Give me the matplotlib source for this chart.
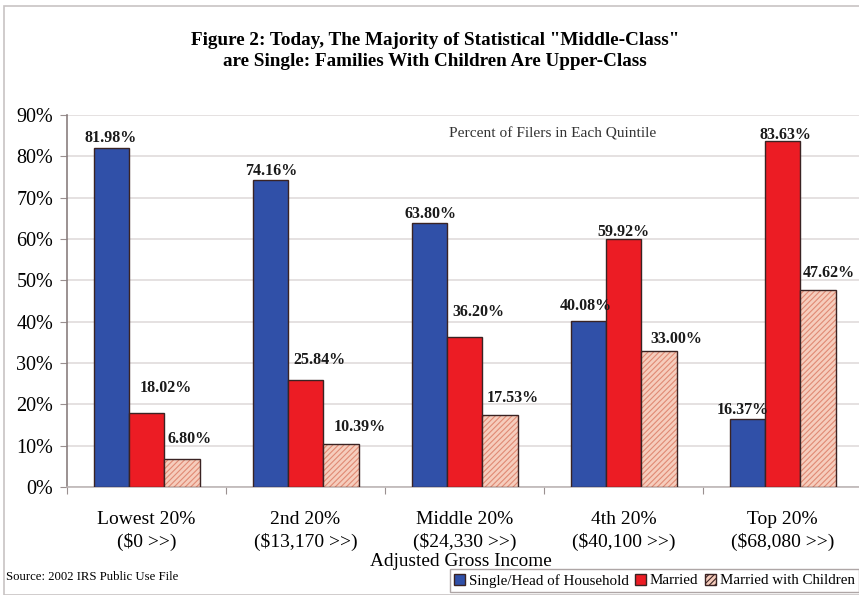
import matplotlib
matplotlib.use("Agg")
import matplotlib.pyplot as plt
import numpy as np
from matplotlib.patches import Rectangle, Patch

plt.rcParams['font.family'] = ['Liberation Serif', 'DejaVu Serif']
plt.rcParams['hatch.linewidth'] = 0.8

categories = ["Lowest 20%\n($0 >>)", "2nd 20%\n($13,170 >>)", "Middle 20%\n($24,330 >>)",
              "4th 20%\n($40,100 >>)", "Top 20%\n($68,080 >>)"]
single = [81.98, 74.16, 63.80, 40.08, 16.37]
married = [18.02, 25.84, 36.20, 59.92, 83.63]
married_kids = [6.80, 10.39, 17.53, 33.00, 47.62]
series_names = ["Single/Head of Household", "Married", "Married with Children"]
yticks = list(range(0, 100, 10))

# label offsets in pixels (dx, dy) from the top centre of each bar
single_off = [(-1, 10), (1, 9), (1, 9), (-2, 15), (-4, 9)]
married_off = [(19, 25), (14, 20), (14, 25), (0, 7), (3, 6)]
kids_off = [(8, 20), (19, 17), (13, 17), (17, 12), (11, 17)]

blue = "#3050a8"
red = "#ec1c24"
pink = "#f6cdbd"
hatch_col = "#e08a74"
edge = "#3a2323"

fig = plt.figure(figsize=(8.59, 5.95), dpi=100)
fig.patch.set_facecolor("white")
fig.patches.append(Rectangle((4 / 859, 0), 1.0, 1 - 6 / 595, transform=fig.transFigure,
                             fill=False, edgecolor="#c8c4c4", linewidth=1.2, zorder=0))

ax = fig.add_axes([67 / 859, 1 - 487 / 595, 795 / 859, (487 - 115) / 595])
n = len(categories)
x = np.arange(n)
w = 1 / 4.5

ax.bar(x - w, single, w, color=blue, edgecolor=edge, linewidth=1.0, zorder=3)
ax.bar(x, married, w, color=red, edgecolor=edge, linewidth=1.0, zorder=3)
ax.bar(x + w, married_kids, w, color=pink, edgecolor=hatch_col, hatch="//////", linewidth=0, zorder=3)
ax.bar(x + w, married_kids, w, fill=False, edgecolor=edge, linewidth=1.0, zorder=4)

lab_kw = dict(ha="center", va="center", fontsize=11.5, fontweight="bold", color="#1a1a1a",
              textcoords="offset pixels", zorder=5)
for vals, offs, shift in [(single, single_off, -w), (married, married_off, 0), (married_kids, kids_off, w)]:
    for i in range(n):
        ax.annotate(f"{vals[i]:.2f}%", (x[i] + shift, vals[i]), xytext=offs[i], **lab_kw)

ax.set_xlim(-0.5, n - 0.5)
ax.set_ylim(0, 90)
ax.set_yticks(yticks)
ax.set_yticklabels([f"{t}%" for t in yticks], fontsize=14.5)
ax.set_xticks(np.arange(n + 1) - 0.5, minor=False)
ax.set_xticklabels([])
ax.set_xticks(x, minor=True)
ax.set_xticklabels(categories, minor=True, fontsize=14, linespacing=1.38)
ax.tick_params(axis="x", which="minor", length=0, pad=17)
ax.tick_params(axis="x", which="major", length=5, color="#9a9090", direction="out")
ax.tick_params(axis="y", length=5, color="#9a9090", direction="out", pad=5)
ax.grid(axis="y", color="#e0dcdc", linewidth=1.2, zorder=0)
for s in ["top", "right"]:
    ax.spines[s].set_visible(False)
ax.spines["left"].set_color("#8a7f7f")
ax.spines["left"].set_linewidth(1.2)
ax.spines["bottom"].set_color("#bdb6b6")
ax.spines["bottom"].set_linewidth(1.2)

ax.text((449 - 67) / 795, 0.95, "Percent of Filers in Each Quintile", transform=ax.transAxes,
        fontsize=11.1, color="#333333", ha="left", va="center")

fig.text(435 / 859, 1 - 51 / 595,
         'Figure 2: Today, The Majority of Statistical "Middle-Class"\nare Single: Families With Children Are Upper-Class',
         ha="center", va="center", fontweight="bold", fontsize=13.8, linespacing=1.3)
fig.text(461 / 859, 1 - 561 / 595, "Adjusted Gross Income", ha="center", va="center", fontsize=13.9)
fig.text(6 / 859, 1 - 577 / 595, "Source: 2002 IRS Public Use File", ha="left", va="center", fontsize=9.2)

handles = [Patch(facecolor=blue, edgecolor=edge), Patch(facecolor=red, edgecolor=edge),
           Patch(facecolor=pink, edgecolor=edge, hatch="//////")]
leg = fig.legend(handles, series_names, loc="lower right", bbox_to_anchor=(1.0, 3 / 595),
                 ncol=3, frameon=True, fancybox=False, fontsize=10.8,
                 handlelength=0.75, handleheight=0.75, handletextpad=0.25, columnspacing=0.4,
                 borderpad=0.3, borderaxespad=0)
leg.get_frame().set_edgecolor("#9a9090")
leg.get_frame().set_linewidth(1.0)

fig.savefig("out.png", dpi=100, facecolor="white")
